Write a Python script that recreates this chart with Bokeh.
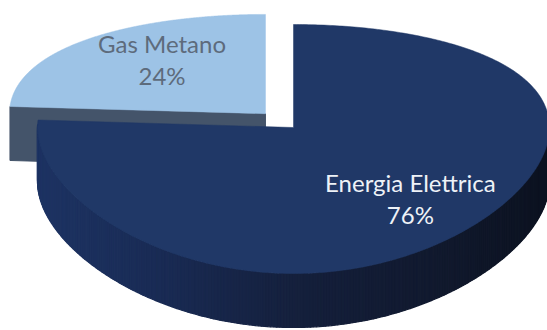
import numpy as np
from bokeh.plotting import figure
from bokeh.models import Range1d
from bokeh.embed import file_html
from bokeh.resources import INLINE
from bokeh.core.properties import value

# ---- data ----
categories = ["Energia Elettrica", "Gas Metano"]
values = [76, 24]

# ---- style ----
top_colors = ["#203867", "#9DC3E6"]
cut_colors = ["#1B2F5A", "#44546A"]
label_colors = ["#EEF2F7", "#5D6B7C"]
explode = [0.0, 0.16]
label_r = [0.667, 0.59]
label_dy = [6.5, -7.5]
side_stops_x = [30, 150, 300, 450, 550]
side_stops_c = [(30, 52, 100), (26, 44, 86), (21, 32, 60), (17, 25, 45), (12, 18, 32)]

W, H = 547, 330
p = figure(width=W, height=H, x_range=Range1d(0, W), y_range=Range1d(H, 0),
           output_backend="svg", toolbar_location=None, min_border=0)
p.axis.visible = False
p.grid.visible = False
p.outline_line_color = None
p.background_fill_color = "white"
p.border_fill_color = "white"

CX, CY = 293.0, 127.0
A, B, PERS = 256.0, 120.8, 0.1727
DEPTH = 54.0


def proj(X, Y):
    X = np.asarray(X, float)
    Y = np.asarray(Y, float)
    ky = 1.0 / (1.0 + PERS * Y)
    return CX + A * X, CY - B * Y * ky


def side_color(x):
    r = np.interp(x, side_stops_x, [c[0] for c in side_stops_c])
    g = np.interp(x, side_stops_x, [c[1] for c in side_stops_c])
    b = np.interp(x, side_stops_x, [c[2] for c in side_stops_c])
    return "#%02x%02x%02x" % (int(r), int(g), int(b))


total = float(sum(values))
slices = []
start = 90.0
for i, v in enumerate(values):
    a0 = start
    a1 = start - 360.0 * v / total
    start = a1
    mid = np.radians((a0 + a1) / 2)
    ex, ey = explode[i] * np.cos(mid), explode[i] * np.sin(mid)
    slices.append((i, a0, a1, mid, ex, ey))

# painter's order: back slices first (larger vertex depth)
order = sorted(slices, key=lambda s: -s[5])

label_x, label_y1, label_y2, texts1, texts2, tcol = [], [], [], [], [], []

for (i, a0, a1, mid, ex, ey) in order:
    # radial cut faces
    for a, ndir in ((a0, a0 + 90.0), (a1, a1 - 90.0)):
        if np.sin(np.radians(ndir)) < -1e-6:
            ar = np.radians(a)
            vx, vy = proj(ex, ey)
            rx, ry = proj(ex + np.cos(ar), ey + np.sin(ar))
            p.patch([vx, rx, rx, vx], [vy, ry, ry + DEPTH, vy + DEPTH],
                    fill_color=cut_colors[i], line_color=cut_colors[i], line_width=1)
    # outer side strips (front-facing part)
    th = np.radians(np.linspace(a0, a1, 400))
    front = np.sin(th) < 0.02
    xs, ys, cs = [], [], []
    for k in range(len(th) - 1):
        if not (front[k] or front[k + 1]):
            continue
        x0, y0 = proj(ex + np.cos(th[k]), ey + np.sin(th[k]))
        x1, y1 = proj(ex + np.cos(th[k + 1]), ey + np.sin(th[k + 1]))
        xs.append([x0, x1, x1, x0])
        ys.append([y0, y1, y1 + DEPTH, y0 + DEPTH])
        c = side_color((x0 + x1) / 2) if i == 0 else cut_colors[i]
        cs.append(c)
    if xs:
        p.patches(xs, ys, fill_color=cs, line_color=cs, line_width=1.2)
    # top face
    ax, ay = proj(ex + np.cos(th), ey + np.sin(th))
    vx, vy = proj(ex, ey)
    p.patch(np.concatenate([[vx], ax]), np.concatenate([[vy], ay]),
            fill_color=top_colors[i], line_color=top_colors[i], line_width=0.5)
    # label
    lx, ly = proj(ex + label_r[i] * np.cos(mid), ey + label_r[i] * np.sin(mid))
    ly = ly + label_dy[i]
    label_x.append(float(lx))
    label_y1.append(float(ly) - 16)
    label_y2.append(float(ly) + 16)
    texts1.append(categories[i])
    texts2.append("%d%%" % round(100 * values[i] / total))
    tcol.append(label_colors[i])

p.text(x=label_x, y=label_y1, text=texts1, text_color=tcol, text_align="center",
       text_baseline="middle", text_font=value("Lato"), text_font_size="24px")
p.text(x=label_x, y=label_y2, text=texts2, text_color=tcol, text_align="center",
       text_baseline="middle", text_font=value("Lato"), text_font_size="24px")

open("out.html", "w").write(file_html(p, INLINE))
